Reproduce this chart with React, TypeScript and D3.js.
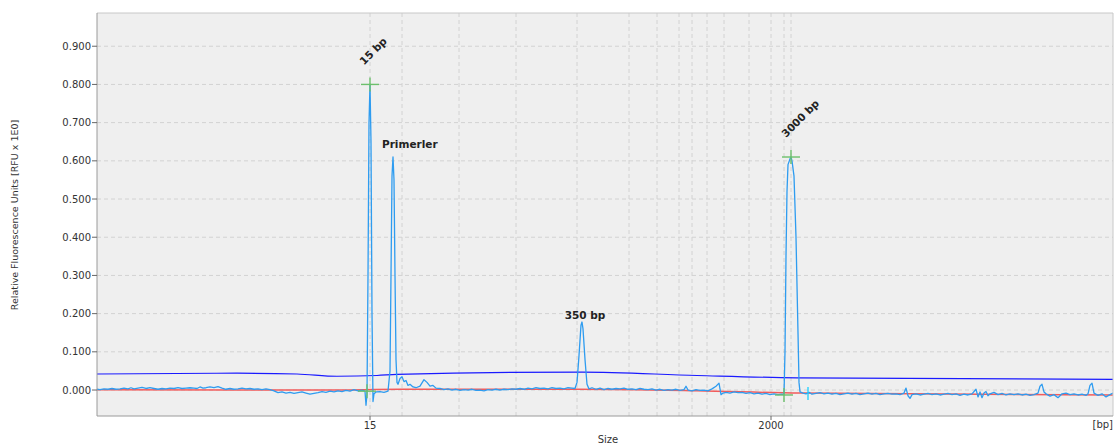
import React from "react";
import * as d3 from "d3";

// ---- data (x in migration scan units, y in RFU) ----
const TRACE: [number, number][] = [
  [0, 0.002], [3, 0.001], [7, 0.003], [11, 0.002], [15, 0.004], [19, 0.002], [23, 0.003], [27, 0.005],
  [31, 0.003], [34, 0.006], [37, 0.003], [41, 0.005], [45, 0.007], [49, 0.004], [53, 0.006], [57, 0.004],
  [61, 0.002], [65, 0.004], [69, 0.003], [73, 0.005], [77, 0.004], [81, 0.006], [85, 0.004], [89, 0.005],
  [93, 0.006], [97, 0.005], [100, 0.004], [103, 0.008], [106, 0.005], [109, 0.006], [113, 0.008], [117, 0.006],
  [121, 0.009], [125, 0.005], [129, 0.002], [133, 0.004], [137, 0.002], [141, 0.003], [145, 0.005], [149, 0.003],
  [153, 0.004], [157, 0.002], [161, 0.003], [165, 0.001], [169, 0.003], [173, 0.001], [177, -0.002], [181, -0.007],
  [185, -0.005], [189, -0.008], [193, -0.006], [197, -0.009], [201, -0.007], [205, -0.005], [209, -0.008], [213, -0.011],
  [217, -0.009], [221, -0.007], [225, -0.004], [229, -0.006], [233, -0.003], [237, -0.005], [241, -0.002], [245, -0.004],
  [249, -0.001], [253, -0.003], [257, 0.001], [261, -0.002], [265, 0.0], [268, -0.003], [269, -0.04], [270, -0.01],
  [271, 0.3], [272, 0.7], [273, 0.8], [274, 0.65], [275, 0.2], [276, -0.03], [277, -0.01], [279, -0.005],
  [283, -0.004], [287, -0.006], [291, -0.003], [293, 0.05], [294, 0.3], [295, 0.56], [296, 0.61], [297, 0.55],
  [298, 0.3], [299, 0.08], [300, 0.02], [301, 0.015], [303, 0.03], [305, 0.035], [307, 0.022], [309, 0.025],
  [311, 0.012], [313, 0.015], [316, 0.008], [319, 0.006], [323, 0.01], [327, 0.027], [330, 0.02], [333, 0.01],
  [336, 0.012], [339, 0.005], [343, 0.004], [347, 0.001], [351, 0.003], [355, 0.0], [359, 0.002], [363, -0.001],
  [367, 0.001], [371, 0.0], [375, 0.002], [379, -0.001], [383, 0.0], [387, -0.002], [391, 0.001], [395, 0.0],
  [399, 0.002], [403, 0.0], [407, 0.002], [411, 0.001], [415, 0.003], [419, 0.002], [423, 0.004], [427, 0.002],
  [431, 0.005], [435, 0.003], [439, 0.006], [443, 0.004], [447, 0.005], [451, 0.003], [455, 0.006], [459, 0.004],
  [463, 0.005], [467, 0.003], [471, 0.006], [475, 0.005], [478, 0.004], [480, 0.02], [482, 0.09], [484, 0.17],
  [485, 0.178], [486, 0.16], [488, 0.08], [490, 0.015], [492, 0.003], [495, 0.006], [499, 0.002], [503, 0.005],
  [507, 0.001], [511, 0.004], [515, 0.002], [519, 0.004], [523, 0.003], [527, 0.005], [531, 0.002], [535, 0.003],
  [539, 0.001], [543, 0.004], [547, 0.002], [551, 0.001], [555, 0.003], [559, 0.0], [563, 0.002], [567, -0.001],
  [571, 0.001], [575, 0.0], [579, 0.002], [583, -0.001], [587, 0.001], [589, 0.01], [591, 0.0], [595, -0.002],
  [599, 0.001], [603, -0.001], [607, 0.0], [611, -0.002], [615, 0.003], [619, 0.01], [622, 0.018], [624, -0.012],
  [626, -0.008], [629, -0.006], [633, -0.008], [637, -0.005], [641, -0.007], [645, -0.006], [649, -0.009], [653, -0.007],
  [657, -0.01], [661, -0.008], [665, -0.011], [669, -0.009], [673, -0.012], [677, -0.01], [681, -0.012], [685, -0.011],
  [687, -0.012], [688, 0.1], [689, 0.35], [690, 0.52], [691, 0.59], [693, 0.605], [694, 0.61], [695, 0.6],
  [697, 0.56], [699, 0.4], [701, 0.15], [702, 0.02], [703, -0.005], [706, -0.008], [709, -0.01], [712, -0.006],
  [715, -0.011], [719, -0.009], [723, -0.007], [727, -0.01], [731, -0.008], [735, -0.011], [739, -0.009], [743, -0.012],
  [747, -0.01], [751, -0.008], [755, -0.011], [759, -0.009], [763, -0.012], [767, -0.01], [771, -0.008], [775, -0.011],
  [779, -0.009], [783, -0.012], [787, -0.01], [791, -0.009], [795, -0.011], [799, -0.01], [803, -0.012], [807, -0.008],
  [809, 0.005], [811, -0.015], [813, -0.022], [815, -0.012], [819, -0.01], [823, -0.013], [827, -0.011], [831, -0.009],
  [835, -0.012], [839, -0.01], [843, -0.013], [847, -0.011], [851, -0.009], [855, -0.012], [859, -0.01], [863, -0.014],
  [867, -0.011], [871, -0.013], [875, -0.01], [879, 0.002], [881, -0.018], [883, -0.005], [885, -0.02], [887, -0.008],
  [889, -0.004], [891, -0.015], [893, -0.01], [897, -0.006], [901, -0.012], [905, -0.009], [909, -0.013], [913, -0.01],
  [917, -0.012], [921, -0.01], [925, -0.013], [929, -0.011], [933, -0.014], [937, -0.012], [941, -0.008], [943, 0.01],
  [945, 0.015], [947, -0.005], [949, -0.01], [953, -0.016], [957, -0.012], [961, -0.02], [965, -0.01], [969, -0.008],
  [973, -0.012], [977, -0.01], [981, -0.013], [985, -0.011], [989, -0.014], [991, -0.01], [993, 0.012], [995, 0.018],
  [997, -0.008], [1001, -0.014], [1005, -0.01], [1009, -0.018], [1013, -0.012], [1016, -0.008],
];

const THRESHOLD: [number, number][] = [
  [0, 0.042], [140, 0.044], [200, 0.042], [240, 0.036], [280, 0.038], [300, 0.041],
  [485, 0.047], [600, 0.038], [700, 0.032], [1016, 0.028],
];

const BASELINE: [number, number][] = [
  [0, 0.001], [230, 0.0], [303, 0.002], [480, 0.002], [600, -0.002], [703, -0.008], [1016, -0.013],
];

const LADDER_SCANS = [273, 305, 362, 419, 480, 532, 560, 582, 595, 610, 627, 652, 674, 687, 694];
const X_TICK_SCANS = [273, 674];
const X_TICK_LABELS = ["15", "2000"];
const Y_TICKS = [0, 0.1, 0.2, 0.3, 0.4, 0.5, 0.6, 0.7, 0.8, 0.9];

const MARKERS: [number, number][] = [
  [273, 0.8], [270, -0.003], [687, -0.013], [694, 0.61],
];

const PEAK_LABELS = [
  { text: "15 bp", scan: 273, rfu: 0.8, dx: -6, dy: -19, rotate: -45, anchor: "start" },
  { text: "Primerler", scan: 296, rfu: 0.61, dx: -11, dy: -9, rotate: 0, anchor: "start" },
  { text: "350 bp", scan: 485, rfu: 0.178, dx: 3, dy: -3, rotate: 0, anchor: "middle" },
  { text: "3000 bp", scan: 694, rfu: 0.61, dx: -5, dy: -19, rotate: -45, anchor: "start" },
];

const CYAN_MARK = { scan: 711, from: 0.008, to: -0.026 };

const W = 1115, H = 444;
const M = { left: 97, right: 1113, top: 13, bottom: 416 };
const FONT = "'DejaVu Sans', Verdana, sans-serif";

export default function App() {
  const x = d3.scaleLinear().domain([0, 1016]).range([M.left, M.right]);
  const y = d3.scaleLinear().domain([-0.068, 0.987]).range([M.bottom, M.top]);
  const line = d3.line<[number, number]>().x((d) => x(d[0])).y((d) => y(d[1]));
  const smooth = d3.line<[number, number]>().x((d) => x(d[0])).y((d) => y(d[1])).curve(d3.curveMonotoneX);

  return (
    <svg width={W} height={H} style={{ position: "absolute", left: 0, top: 0, background: "#fff" }} fontFamily={FONT}>
      <defs>
        <clipPath id="plot">
          <rect x={M.left} y={M.top} width={M.right - M.left} height={M.bottom - M.top} />
        </clipPath>
      </defs>
      <rect x={M.left} y={M.top} width={M.right - M.left} height={M.bottom - M.top} fill="#efefef" />
      {Y_TICKS.map((t) => (
        <line key={"h" + t} x1={M.left} x2={M.right} y1={y(t)} y2={y(t)} stroke="#d2d2d2" strokeDasharray="4,3" />
      ))}
      {LADDER_SCANS.map((s) => (
        <line key={"v" + s} x1={x(s)} x2={x(s)} y1={M.top} y2={M.bottom} stroke="#d2d2d2" strokeDasharray="4,3" />
      ))}
      <g clipPath="url(#plot)">
        <path d={smooth(THRESHOLD) || ""} fill="none" stroke="#1a1aff" strokeWidth={1.2} />
        <path d={smooth(BASELINE) || ""} fill="none" stroke="#f25c5c" strokeWidth={1.5} />
        <path d={line(TRACE) || ""} fill="none" stroke="#2e9cf0" strokeWidth={1.3} strokeLinejoin="round" />
        <line x1={x(CYAN_MARK.scan)} x2={x(CYAN_MARK.scan)} y1={y(CYAN_MARK.from)} y2={y(CYAN_MARK.to)} stroke="#19d0ff" strokeWidth={1.3} />
        {MARKERS.map(([s, v], i) => (
          <g key={"m" + i} stroke="#6cc06c" strokeWidth={1.4}>
            <line x1={x(s) - 9} x2={x(s) + 9} y1={y(v)} y2={y(v)} />
            <line x1={x(s)} x2={x(s)} y1={y(v) - 7} y2={y(v) + 7} />
          </g>
        ))}
      </g>
      {/* frame */}
      <line x1={M.left} x2={M.right} y1={M.top} y2={M.top} stroke="#c8c8c8" />
      <line x1={M.right} x2={M.right} y1={M.top} y2={M.bottom} stroke="#c8c8c8" />
      <line x1={M.left} x2={M.left} y1={M.top} y2={M.bottom} stroke="#9a9a9a" />
      <line x1={M.left} x2={M.right} y1={M.bottom} y2={M.bottom} stroke="#9a9a9a" />
      {/* y axis */}
      {Y_TICKS.map((t) => (
        <g key={"yt" + t}>
          <line x1={M.left - 5} x2={M.left} y1={y(t)} y2={y(t)} stroke="#666" />
          <text x={M.left - 6} y={y(t)} dy="0.35em" textAnchor="end" fontSize={10} fill="#333">
            {d3.format(".3f")(t)}
          </text>
        </g>
      ))}
      {/* x axis */}
      {X_TICK_SCANS.map((s, i) => (
        <g key={"xt" + s}>
          <line x1={x(s)} x2={x(s)} y1={M.bottom} y2={M.bottom + 4} stroke="#666" />
          <text x={x(s)} y={M.bottom + 13} textAnchor="middle" fontSize={10} fill="#333">
            {X_TICK_LABELS[i]}
          </text>
        </g>
      ))}
      <text x={M.right} y={M.bottom + 12} textAnchor="end" fontSize={10} fill="#333">[bp]</text>
      <text x={608} y={443} textAnchor="middle" fontSize={10} fill="#333">Size</text>
      <text transform={`translate(18,215) rotate(-90)`} textAnchor="middle" fontSize={9.5} fill="#333">
        Relative Fluorescence Units [RFU x 1E0]
      </text>
      {PEAK_LABELS.map((p) => {
        const px = x(p.scan) + p.dx;
        const py = y(p.rfu) + p.dy;
        return (
          <text
            key={p.text}
            transform={`translate(${px},${py}) rotate(${p.rotate})`}
            textAnchor={p.anchor}
            fontSize={10.5}
            fontWeight="bold"
            fill="#222"
          >
            {p.text}
          </text>
        );
      })}
    </svg>
  );
}
